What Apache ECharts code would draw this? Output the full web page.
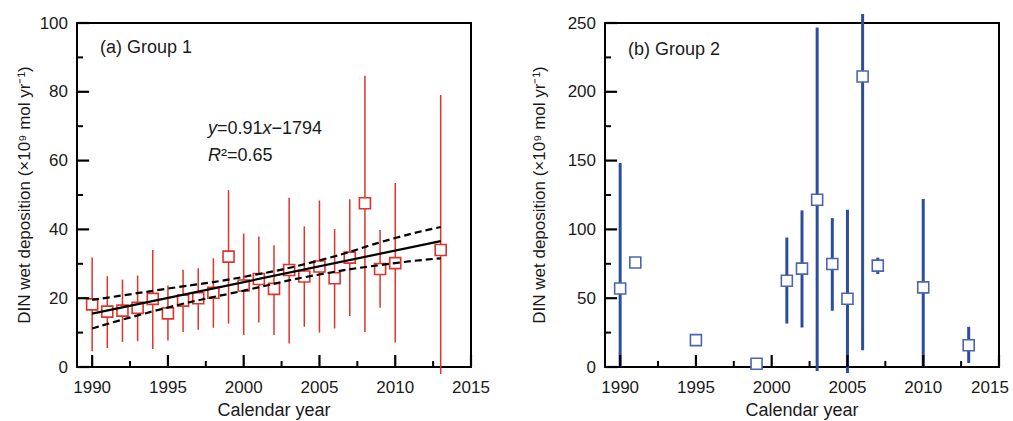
<!DOCTYPE html>
<html>
<head>
<meta charset="utf-8">
<script src="https://cdn.jsdelivr.net/npm/echarts@6/dist/echarts.min.js"></script>
<style>
  html, body { margin: 0; padding: 0; background: #fff; }
  #chart { width: 1013px; height: 421px; }
</style>
</head>
<body>
<div id="chart"></div>
<script>
// ---------- Data ----------
// Panel (a) Group 1
const years1 = [1990, 1991, 1992, 1993, 1994, 1995, 1996, 1997, 1998, 1999, 2000, 2001, 2002, 2003, 2004, 2005, 2006, 2007, 2008, 2009, 2010, 2013];
const mean1  = [18.2, 16.1, 16.4, 17.2, 19.8, 15.6, 19.3, 20.0, 21.6, 32.1, 23.7, 25.6, 22.7, 28.2, 26.3, 29.2, 25.8, 31.8, 47.6, 28.5, 30.2, 34.0];
const high1  = [31.8, 26.4, 25.4, 26.6, 34.0, 23.7, 28.3, 28.7, 31.6, 51.4, 38.8, 37.9, 35.4, 49.2, 40.9, 48.4, 40.1, 48.8, 84.7, 39.8, 53.5, 79.1];
const low1   = [4.6, 5.5, 7.3, 7.5, 5.2, 7.7, 10.2, 10.8, 11.4, 12.6, 9.3, 12.9, 9.3, 6.8, 11.7, 10.0, 11.2, 14.8, 10.2, 17.2, 7.1, -2.0];

// regression line and confidence band
const fitYears   = [1990, 2013];
const fitValues  = [15.5, 36.6];
const bandYears  = [1990, 1995, 2000, 2005, 2010, 2013];
const bandUpper  = [19.5, 22.8, 26.2, 31.0, 37.5, 40.7];
const bandLower  = [11.2, 17.3, 22.2, 26.9, 30.2, 31.6];

// Panel (b) Group 2
const years2 = [1990, 1991, 1995, 1999, 2001, 2002, 2003, 2004, 2005, 2006, 2007, 2010, 2013];
const mean2  = [57.1, 75.9, 19.5, 2.4, 62.7, 71.5, 121.6, 74.9, 49.6, 211.1, 73.7, 57.9, 15.8];
const high2  = [148.3, null, null, null, 94.1, 113.8, 246.8, 108.2, 114.3, 256.6, 79.5, 122.1, 29.2];
const low2   = [0, null, null, null, 31.6, 28.7, -2.9, 40.9, -4.4, 12.2, 67.6, 0, 2.9];

// axis ticks
const xMajorTicks  = [1990, 1995, 2000, 2005, 2010, 2015];
const xMinorTicks  = [1992.5, 1997.5, 2002.5, 2007.5, 2012.5];
const y1MajorTicks = [0, 20, 40, 60, 80, 100];
const y1MinorTicks = [10, 30, 50, 70, 90];
const y2MajorTicks = [0, 50, 100, 150, 200, 250];
const y2MinorTicks = [25, 75, 125, 175, 225];

const yTitle = 'DIN wet deposition (×10⁹ mol yr⁻¹)';
const xTitle = 'Calendar year';

// ---------- Styles ----------
const X_MIN = 1989, X_MAX = 2015;
const FONT = '"Liberation Sans", Arial, Helvetica, sans-serif';
const TXT = '#1a1a1a';
const RED = '#e0342b';
const BLUE = '#2d4d9e';
const BLUE_SQ = '#4a66b0';
const TICK = '#000';

const chart = echarts.init(document.getElementById('chart'), null, { renderer: 'svg' });

function errData(xs, lo, hi) {
  const out = [];
  xs.forEach((x, i) => { if (hi[i] != null && lo[i] != null) out.push([x, lo[i], hi[i]]); });
  return out;
}
function segSeries(xi, yi, data, color, width, zz) {
  // each item: [x1, y1, x2, y2] in data units
  return {
    type: 'custom', xAxisIndex: xi, yAxisIndex: yi, z: zz, silent: true, clip: false,
    encode: { x: [0, 2], y: [1, 3] },
    data: data,
    renderItem: function (params, api) {
      const p1 = api.coord([api.value(0), api.value(1)]);
      const p2 = api.coord([api.value(2), api.value(3)]);
      return { type: 'line', shape: { x1: p1[0], y1: p1[1], x2: p2[0], y2: p2[1] },
               style: { stroke: color, lineWidth: width } };
    }
  };
}
// tick marks: segments whose lengths are expressed in axis units of each panel
function xTickData(vals, yBase, yLen) { return vals.map(v => [v, yBase, v, yBase + yLen]); }
function yTickData(vals, xBase, xLen) { return vals.map(v => [xBase, v, xBase + xLen, v]); }

function xMain(gi, shiftLast) {
  return {
    type: 'value', gridIndex: gi, min: X_MIN, max: X_MAX, position: 'bottom',
    axisLine: { show: true, onZero: false, lineStyle: { color: '#000', width: 2 } },
    axisTick: { show: false },
    axisLabel: {
      customValues: xMajorTicks,
      formatter: v => (shiftLast && v === X_MAX) ? '{r|' + v + '}' : String(v),
      rich: { r: { padding: [0, 18, 0, 0], color: TXT, fontSize: 17, fontFamily: FONT } },
      color: TXT, fontSize: 17, fontFamily: FONT, margin: 12
    },
    splitLine: { show: false },
    name: xTitle, nameLocation: 'middle', nameGap: 34,
    nameTextStyle: { color: TXT, fontSize: 18, fontFamily: FONT }
  };
}
function xTop(gi) {
  return {
    type: 'value', gridIndex: gi, min: X_MIN, max: X_MAX, position: 'top',
    axisLine: { show: true, onZero: false, lineStyle: { color: '#000', width: 2 } },
    axisTick: { show: false }, axisLabel: { show: false }, splitLine: { show: false }
  };
}
function yAx(gi, max, interval, gap) {
  return {
    type: 'value', gridIndex: gi, min: 0, max: max, interval: interval, position: 'left',
    axisLine: { show: true, onZero: false, lineStyle: { color: '#000', width: 2 } },
    axisTick: { show: false },
    axisLabel: { color: TXT, fontSize: 17, fontFamily: FONT, margin: 9 },
    splitLine: { show: false },
    name: yTitle, nameLocation: 'middle', nameGap: gap, nameRotate: 90,
    nameTextStyle: { color: TXT, fontSize: 17, fontFamily: FONT }
  };
}
function yRight(gi, max) {
  return {
    type: 'value', gridIndex: gi, min: 0, max: max, position: 'right',
    axisLine: { show: true, onZero: false, lineStyle: { color: '#000', width: 2 } },
    axisTick: { show: false }, axisLabel: { show: false }, splitLine: { show: false }
  };
}

const option = {
  backgroundColor: '#fff',
  animation: false,
  grid: [
    { left: 77, top: 23, width: 394, height: 344, show: false, containLabel: false, outerBoundsMode: 'none' },
    { left: 605, top: 23, width: 394, height: 344, show: false, containLabel: false, outerBoundsMode: 'none' }
  ],
  xAxis: [ xMain(0, false), xTop(0), xMain(1, true), xTop(1) ],
  yAxis: [ yAx(0, 100, 20, 44), yRight(0, 100), yAx(1, 250, 50, 57), yRight(1, 250) ],
  graphic: [
    { type: 'text', left: 100, top: 38, style: { text: '(a) Group 1', fill: TXT, font: '18px ' + FONT } },
    { type: 'text', left: 628, top: 40, style: { text: '(b) Group 2', fill: TXT, font: '18px ' + FONT } },
    { type: 'text', left: 208, top: 119, style: {
        text: '{i|y}=0.91{i|x}−1794', fill: TXT, font: '18px ' + FONT,
        rich: { i: { fontStyle: 'italic', fontSize: 18, fontFamily: FONT, fill: TXT } } } },
    { type: 'text', left: 208, top: 146, style: {
        text: '{i|R}²=0.65', fill: TXT, font: '18px ' + FONT,
        rich: { i: { fontStyle: 'italic', fontSize: 18, fontFamily: FONT, fill: TXT } } } }
  ],
  series: [
    segSeries(0, 0, errData(years1, low1, high1).map(d => [d[0], d[1], d[0], d[2]]), RED, 1.5, 2),
    {
      type: 'scatter', xAxisIndex: 0, yAxisIndex: 0, z: 3, silent: true,
      symbol: 'rect', symbolSize: 11,
      itemStyle: { color: '#fff', borderColor: RED, borderWidth: 1.6, opacity: 1 },
      data: years1.map((x, i) => [x, mean1[i]])
    },
    {
      type: 'line', xAxisIndex: 0, yAxisIndex: 0, z: 4, silent: true, showSymbol: false, symbol: 'none',
      lineStyle: { color: '#000', width: 2.2 },
      data: fitYears.map((x, i) => [x, fitValues[i]])
    },
    {
      type: 'line', xAxisIndex: 0, yAxisIndex: 0, z: 4, silent: true, showSymbol: false, symbol: 'none', smooth: true,
      lineStyle: { color: '#000', width: 2.2, type: [7, 4] },
      data: bandYears.map((x, i) => [x, bandUpper[i]])
    },
    {
      type: 'line', xAxisIndex: 0, yAxisIndex: 0, z: 4, silent: true, showSymbol: false, symbol: 'none', smooth: true,
      lineStyle: { color: '#000', width: 2.2, type: [7, 4] },
      data: bandYears.map((x, i) => [x, bandLower[i]])
    },
    segSeries(2, 2, errData(years2, low2, high2).map(d => [d[0], d[1], d[0], d[2]]), BLUE, 3, 2),
    {
      type: 'scatter', xAxisIndex: 2, yAxisIndex: 2, z: 3, silent: true,
      symbol: 'rect', symbolSize: 11,
      itemStyle: { color: '#fff', borderColor: BLUE_SQ, borderWidth: 1.6, opacity: 1 },
      data: years2.map((x, i) => [x, mean2[i]])
    },
    // tick marks, panel (a): 12 px ≈ 3.5 units in y, 0.8 yr in x
    segSeries(0, 0, xTickData(xMajorTicks, 0, 3.5), TICK, 2.2, 10),
    segSeries(0, 0, xTickData(xMinorTicks, 0, 1.75), TICK, 2, 10),
    segSeries(0, 0, yTickData(y1MajorTicks, X_MIN, 0.8), TICK, 2.2, 10),
    segSeries(0, 0, yTickData(y1MinorTicks, X_MIN, 0.4), TICK, 2, 10),
    // tick marks, panel (b): 12 px ≈ 8.7 units in y
    segSeries(2, 2, xTickData(xMajorTicks, 0, 8.7), TICK, 2.2, 10),
    segSeries(2, 2, xTickData(xMinorTicks, 0, 4.4), TICK, 2, 10),
    segSeries(2, 2, yTickData(y2MajorTicks, X_MIN, 0.8), TICK, 2.2, 10),
    segSeries(2, 2, yTickData(y2MinorTicks, X_MIN, 0.4), TICK, 2, 10)
  ]
};
chart.setOption(option);
</script>
</body>
</html>
